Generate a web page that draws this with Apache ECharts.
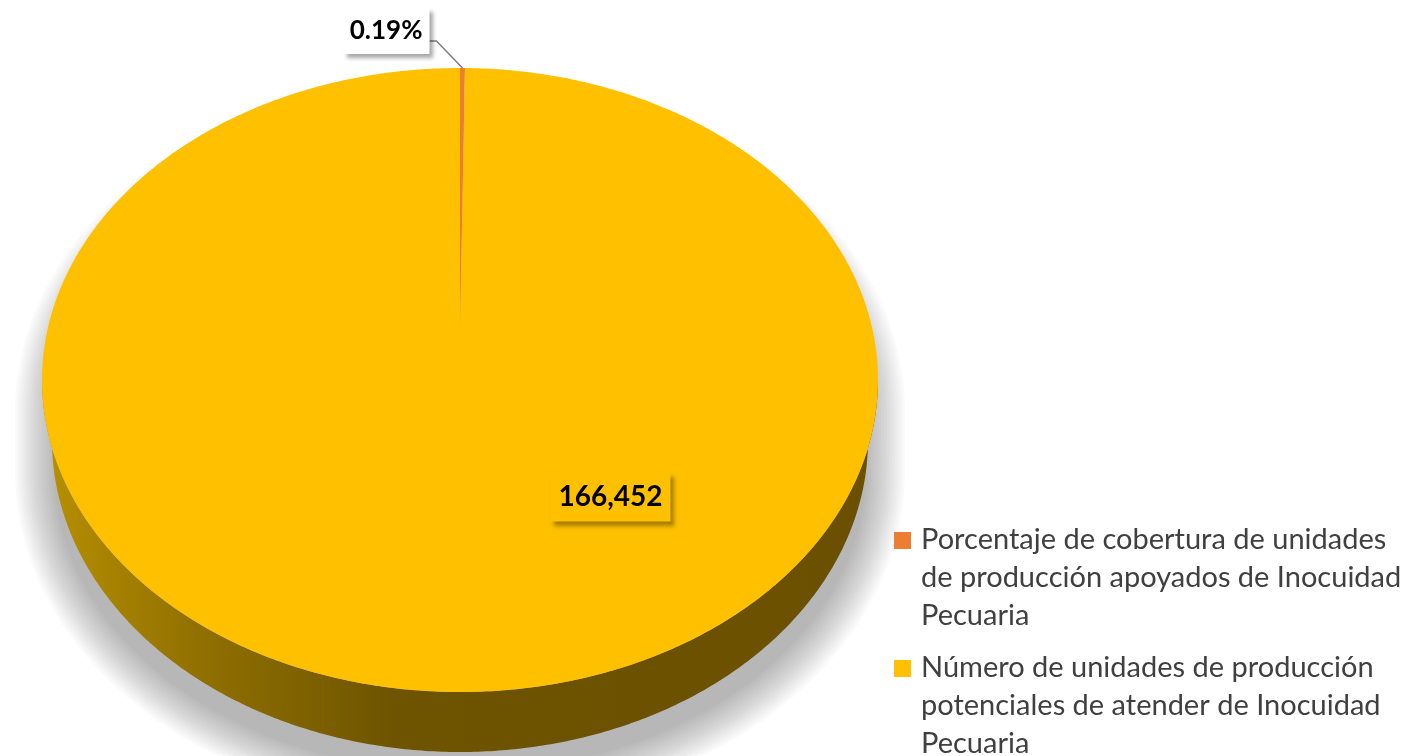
<!DOCTYPE html>
<html>
<head>
    <meta charset="utf-8">
    <title>Inocuidad Pecuaria</title>
    <script src="https://cdn.jsdelivr.net/npm/echarts@6/dist/echarts.min.js"></script>
    <style>
        html, body { margin: 0; padding: 0; background: #fff; }
    </style>
</head>
<body>
    <div id="main" style="width: 1418px;height:756px;"></div>
    <script type="text/javascript">
        // datos
        var categories = [
            'Porcentaje de cobertura de unidades de producción apoyados de Inocuidad Pecuaria',
            'Número de unidades de producción potenciales de atender de Inocuidad Pecuaria'
        ];
        var values = [317, 166452];
        var colors = ['#ED7D31', '#FFC000'];

        // geometria del pastel 3D (elipse superior y borde inferior algo mas estrecho)
        var CX = 460, CY = 380, RX = 418, RY = 312, DEPTH = 60, APEX_Y = 330;
        var RX_BOTTOM = 408;
        var TWO_PI = Math.PI * 2;

        function edge(t, dy, rx) {
            return [CX + (rx || RX) * Math.sin(t), CY - RY * Math.cos(t) + (dy || 0)];
        }
        function arc(a0, a1, dy, rx) {
            var pts = [];
            var n = Math.max(2, Math.ceil(Math.abs(a1 - a0) / 0.01));
            for (var k = 0; k <= n; k++) {
                pts.push(edge(a0 + (a1 - a0) * k / n, dy, rx));
            }
            return pts;
        }
        function sum(arr) {
            return arr.reduce(function (a, b) { return a + b; }, 0);
        }
        // contorno del disco, ampliado e px y desplazado off px (para la sombra)
        function silhouette(e, off) {
            var pts = [];
            for (var k = 0; k <= 200; k++) {
                var t = -Math.PI / 2 + Math.PI * 2 * k / 200;
                var dy = (t > Math.PI / 2) ? DEPTH : 0;
                pts.push([CX + (RX + e) * Math.sin(t), CY - (RY + e) * Math.cos(t) + dy + off]);
            }
            return pts;
        }

        // ajuste de texto en lineas
        var measureCtx = document.createElement('canvas').getContext('2d');
        function wrap(text, font, maxWidth) {
            measureCtx.font = font;
            var words = text.split(' '), lines = [], cur = '';
            words.forEach(function (w) {
                var test = cur ? cur + ' ' + w : w;
                if (cur && measureCtx.measureText(test).width > maxWidth) {
                    lines.push(cur);
                    cur = w;
                } else {
                    cur = test;
                }
            });
            if (cur) lines.push(cur);
            return lines.join('\n');
        }

        var sideFill = new echarts.graphic.LinearGradient(CX - RX, 0, CX + RX, 0, [
            { offset: 0, color: '#b89000' },
            { offset: 0.18, color: '#927100' },
            { offset: 0.42, color: '#6e5400' },
            { offset: 1, color: '#6a5000' }
        ], true);

        function renderItem(params, api) {
            var i = params.dataIndex;
            var total = sum(values);
            var start = sum(values.slice(0, i)) / total * TWO_PI;
            var end = start + api.value(1) / total * TWO_PI;
            var children = [];

            // lado visible (mitad frontal)
            var s0 = Math.max(start, Math.PI / 2), s1 = Math.min(end, Math.PI * 3 / 2);
            if (s1 > s0) {
                children.push({
                    type: 'polygon',
                    shape: { points: arc(s0, s1, 0).concat(arc(s1, s0, DEPTH, RX_BOTTOM)) },
                    style: { fill: sideFill }
                });
            }

            // cara superior
            children.push({
                type: 'polygon',
                shape: { points: [[CX, APEX_Y]].concat(arc(start, end, 0)) },
                style: { fill: api.visual('color') }
            });

            // etiquetas
            var mid = (start + end) / 2;
            if (i === 0) {
                var a = edge(mid, 0);
                var elbow = [a[0] - 26, a[1] - 27];
                var p0 = [elbow[0] - 7, elbow[1]];
                children.push({
                    type: 'polyline',
                    shape: { points: [p0, elbow, a] },
                    style: { stroke: '#7f7f7f', lineWidth: 1.5, fill: null }
                });
                children.push({
                    type: 'text',
                    style: {
                        text: (api.value(1) / total * 100).toFixed(2) + '%',
                        x: p0[0], y: elbow[1] - 10,
                        align: 'right', verticalAlign: 'middle',
                        fontFamily: 'Lato', fontWeight: 'bold', fontSize: 26,
                        lineHeight: 30,
                        fill: '#000',
                        backgroundColor: '#fff',
                        padding: [8, 7],
                        shadowColor: 'rgba(0,0,0,0.35)',
                        shadowBlur: 4, shadowOffsetX: 4, shadowOffsetY: 4
                    }
                });
            } else {
                children.push({
                    type: 'text',
                    style: {
                        text: echarts.format.addCommas(api.value(1)),
                        x: CX + 0.36 * RX, y: CY + 0.375 * RY,
                        align: 'center', verticalAlign: 'middle',
                        fontFamily: 'Lato', fontWeight: 'bold', fontSize: 28,
                        lineHeight: 33,
                        fill: '#000',
                        backgroundColor: '#FFC000',
                        padding: [8, 8],
                        shadowColor: 'rgba(0,0,0,0.35)',
                        shadowBlur: 4, shadowOffsetX: 4, shadowOffsetY: 4
                    }
                });
            }
            return { type: 'group', children: children };
        }

        var graphics = [];

        // sombra difusa bajo el pastel (capas semitransparentes)
        for (var k = 0; k < 16; k++) {
            graphics.push({
                type: 'polygon',
                z: 0,
                silent: true,
                shape: { points: silhouette(-12 + k * 2.6, 32) },
                style: { fill: 'rgba(60,60,90,0.026)' }
            });
        }

        // leyenda
        var legendFont = '29px Lato';
        var legendTops = [532, 660];
        categories.forEach(function (name, i) {
            graphics.push({
                type: 'rect',
                shape: { x: 894, y: legendTops[i], width: 17, height: 17 },
                style: { fill: colors[i] }
            });
            graphics.push({
                type: 'text',
                style: {
                    text: wrap(name, legendFont, 495),
                    x: 921, y: legendTops[i] - 11,
                    fontFamily: 'Lato', fontSize: 29, lineHeight: 38,
                    fill: '#404040'
                }
            });
        });

        var myChart = echarts.init(document.getElementById('main'));
        var option = {
            backgroundColor: '#fff',
            animation: false,
            graphic: { elements: graphics },
            series: [{
                type: 'custom',
                coordinateSystem: 'none',
                z: 5,
                renderItem: renderItem,
                data: values.map(function (v, i) {
                    return { name: categories[i], value: [i, v], itemStyle: { color: colors[i] } };
                })
            }]
        };
        myChart.setOption(option);
    </script>
</body>
</html>
